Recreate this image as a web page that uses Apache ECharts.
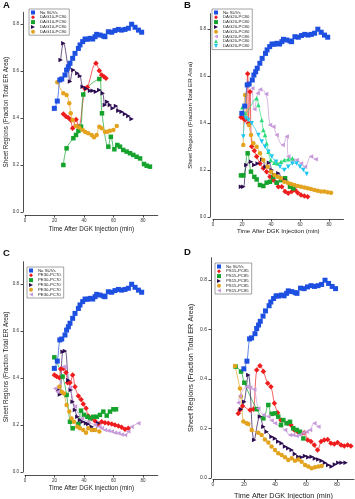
<!DOCTYPE html>
<html><head><meta charset="utf-8">
<script src="https://cdn.jsdelivr.net/npm/echarts@6/dist/echarts.min.js"></script>
<style>html,body{margin:0;padding:0;background:#fff}#c{width:355px;height:499px}</style>
</head><body><div id="c"></div>
<script>
// ---- tick labels ----
const xTicks = [0, 20, 40, 60, 80];
const yTicks = [0.0, 0.2, 0.4, 0.6, 0.8];
const xTitle = 'Time After DGK Injection (min)';
const yTitle = 'Sheet Regions (Fraction Total ER Area)';
const panelLetters = ['A', 'B', 'C', 'D'];
const ctrlLabel = 'No SUVs';
const panelLabels = ['DAG10-PC90', 'DAG20-PC80', 'PE30-PC70', 'PS15-PC85'];

// ---- control (same in every panel) ----
const noSUVs = [[19.9,0.441],[21.9,0.472],[23.6,0.562],[24.9,0.566],[27.1,0.583],[28.2,0.604],[29.4,0.618],[30.5,0.633],[32.3,0.654],[33.9,0.675],[36.2,0.696],[37.3,0.711],[39.1,0.725],[40.7,0.736],[42.3,0.735],[44.1,0.739],[45.9,0.736],[47.5,0.746],[48.6,0.756],[50.8,0.753],[53.1,0.749],[54.2,0.746],[56.5,0.767],[58.8,0.765],[61.0,0.772],[63.3,0.777],[65.5,0.774],[67.8,0.777],[70.1,0.782],[72.3,0.799],[74.6,0.786],[76.9,0.774],[79.1,0.765]];

// ---- panel A ----
const A_red = [[26.0,0.417],[27.8,0.406],[29.4,0.401],[31.0,0.391],[32.3,0.356],[34.6,0.394],[36.2,0.363],[40.7,0.526],[42.3,0.531],[48.1,0.633],[50.4,0.601],[52.0,0.583],[53.6,0.576],[54.9,0.569]];
const A_green = [[26.0,0.200],[28.2,0.271],[32.8,0.314],[34.6,0.328],[36.2,0.345],[38.0,0.363],[39.5,0.500],[50.4,0.566],[52.2,0.420],[56.5,0.278],[58.2,0.320],[60.6,0.267],[62.6,0.285],[64.4,0.278],[66.6,0.264],[68.9,0.257],[71.2,0.250],[73.4,0.243],[75.7,0.235],[78.0,0.228],[80.7,0.204],[82.5,0.197],[84.7,0.193]];
const A_purple = [[24.2,0.647],[26.0,0.718],[29.4,0.604],[30.5,0.555],[32.8,0.604],[35.5,0.590],[37.3,0.579],[39.1,0.533],[41.4,0.526],[44.1,0.516],[45.9,0.516],[48.1,0.512],[50.4,0.519],[52.7,0.505],[54.2,0.455],[55.8,0.469],[57.6,0.455],[59.5,0.441],[61.7,0.451],[63.3,0.431],[65.5,0.427],[67.8,0.417],[70.1,0.408],[72.3,0.396]];
const A_orange = [[21.9,0.552],[26.0,0.505],[28.2,0.498],[30.0,0.463],[31.0,0.420],[32.3,0.391],[34.6,0.366],[36.8,0.360],[39.1,0.349],[40.9,0.340],[42.9,0.335],[45.2,0.328],[46.8,0.318],[48.6,0.328],[50.4,0.363],[52.0,0.356],[54.2,0.342],[55.8,0.342],[57.6,0.346],[59.9,0.349],[62.2,0.366]];

// ---- panel B ----
const B_red = [[19.3,0.424],[20.9,0.420],[22.1,0.413],[23.9,0.609],[24.4,0.399],[25.5,0.533],[26.7,0.300],[28.5,0.282],[30.1,0.257],[32.4,0.228],[34.7,0.207],[37.0,0.193],[39.3,0.171],[41.6,0.157],[43.9,0.146],[45.1,0.129],[47.4,0.129],[49.7,0.108],[51.9,0.101],[54.3,0.108],[56.6,0.115],[58.4,0.103],[60.7,0.094],[63.0,0.089],[65.3,0.086]];
const B_green = [[19.3,0.177],[20.9,0.177],[23.9,0.271],[26.2,0.193],[28.5,0.171],[30.1,0.160],[32.4,0.136],[34.7,0.132],[37.0,0.146],[39.3,0.150],[41.6,0.171],[43.9,0.146],[46.9,0.157],[49.7,0.165],[53.1,0.129],[55.4,0.122]];
const B_purple = [[19.3,0.129],[20.9,0.129],[23.0,0.221],[26.2,0.235],[28.5,0.221],[30.8,0.228],[34.0,0.245],[36.3,0.214],[38.6,0.231],[40.5,0.200],[42.3,0.179],[45.1,0.186],[47.4,0.165],[49.7,0.157]];
const B_orange = [[20.9,0.306],[22.1,0.519],[24.8,0.391],[26.2,0.349],[27.8,0.314],[30.1,0.299],[32.4,0.271],[34.7,0.243],[37.7,0.214],[40.0,0.193],[42.3,0.179],[44.6,0.171],[46.9,0.165],[49.2,0.150],[51.5,0.146],[53.8,0.140],[56.1,0.136],[58.4,0.132],[60.7,0.129],[63.0,0.125],[65.3,0.122],[67.6,0.119],[69.9,0.115],[72.2,0.112],[74.5,0.109],[76.8,0.108],[79.1,0.105],[81.4,0.103]];
const B_lavender = [[27.1,0.548],[28.5,0.458],[30.8,0.526],[32.4,0.543],[36.6,0.523],[39.3,0.391],[41.6,0.384],[43.9,0.349],[48.0,0.306],[50.8,0.342],[51.9,0.257],[54.7,0.243],[57.7,0.243],[60.7,0.228],[63.4,0.214],[67.6,0.257],[70.8,0.246]];
const B_ltgreen = [[20.2,0.467],[22.1,0.441],[30.1,0.505],[31.3,0.477],[33.6,0.413],[34.7,0.370],[35.9,0.349],[37.0,0.314],[38.2,0.278],[39.8,0.243],[42.3,0.231],[44.6,0.228],[46.9,0.235],[49.2,0.243],[51.9,0.246],[54.7,0.250]];
const B_cyan = [[20.9,0.342],[22.6,0.420],[24.3,0.413],[26.7,0.399],[31.3,0.349],[33.6,0.321],[35.9,0.299],[38.2,0.278],[40.5,0.257],[43.5,0.235],[46.2,0.214],[49.2,0.200],[51.9,0.214],[54.7,0.228],[57.7,0.228],[60.0,0.214],[62.3,0.200],[64.6,0.183]];

// ---- panel C ----
const C_red = [[19.9,0.413],[21.5,0.406],[23.3,0.401],[24.2,0.438],[26.0,0.441],[27.8,0.423],[28.9,0.380],[30.5,0.380],[32.3,0.413],[33.9,0.363],[36.2,0.323],[38.0,0.309],[39.5,0.289],[41.4,0.271],[42.9,0.238],[45.2,0.228],[47.5,0.217],[49.7,0.204],[52.0,0.214],[54.2,0.210],[56.5,0.207],[58.8,0.204],[61.0,0.200],[63.3,0.196],[65.5,0.190],[67.8,0.182],[70.0,0.186]];
const C_green = [[19.9,0.488],[25.5,0.406],[28.2,0.328],[30.5,0.214],[32.3,0.186],[36.2,0.204],[38.0,0.261],[40.0,0.243],[42.3,0.235],[44.1,0.228],[46.3,0.235],[48.6,0.235],[50.8,0.243],[53.1,0.257],[55.4,0.240],[57.6,0.257],[59.9,0.267],[61.7,0.267]];
const C_purple = [[22.6,0.349],[23.7,0.330],[25.5,0.512],[27.1,0.515],[29.4,0.391],[31.0,0.349],[32.3,0.299],[33.9,0.264],[35.5,0.235],[37.3,0.221],[39.1,0.214],[41.4,0.207],[42.9,0.204],[45.2,0.193],[47.5,0.179],[49.7,0.207]];
const C_orange = [[23.3,0.363],[24.9,0.342],[26.4,0.334],[28.2,0.285],[30.0,0.257],[31.6,0.228],[33.2,0.214],[35.5,0.193],[37.3,0.186],[39.5,0.179],[41.4,0.167],[42.9,0.186],[45.2,0.179],[47.5,0.179],[50.4,0.172]];
const C_lavender = [[20.3,0.355],[21.9,0.342],[26.0,0.448],[27.1,0.446],[30.5,0.360],[33.9,0.279],[38.6,0.228],[42.9,0.214],[47.5,0.200],[50.4,0.193],[52.0,0.186],[54.2,0.179],[56.5,0.176],[58.8,0.172],[61.0,0.167],[63.3,0.165],[65.5,0.160],[67.8,0.157],[70.0,0.172],[72.3,0.193],[76.8,0.207]];

// ---- panel D ----
const D_red = [[16.3,0.261],[17.4,0.275],[19.1,0.291],[23.9,0.275],[26.0,0.278],[28.2,0.436],[30.3,0.453],[32.5,0.430],[35.3,0.383],[37.4,0.369],[39.6,0.302],[41.7,0.264],[43.9,0.234],[48.2,0.221],[50.3,0.214],[52.5,0.194],[54.6,0.187],[56.8,0.180],[58.9,0.183],[61.1,0.154],[63.2,0.147],[65.4,0.133],[67.5,0.113],[69.7,0.147],[71.8,0.154],[74.0,0.156],[76.1,0.140],[78.3,0.137],[80.4,0.143],[82.6,0.133],[84.7,0.129],[86.9,0.133],[89.0,0.129]];
const D_green = [[14.6,0.450],[18.1,0.430],[20.2,0.385],[28.2,0.278],[32.5,0.241],[35.7,0.295],[37.8,0.259],[40.0,0.261],[42.1,0.248],[43.9,0.214],[45.4,0.234],[47.5,0.221],[49.7,0.227],[51.8,0.201],[54.0,0.194],[56.1,0.187],[58.3,0.160]];
const D_purple = [[18.1,0.278],[20.2,0.308],[22.8,0.416],[26.6,0.154],[30.3,0.248],[32.5,0.207],[34.6,0.187],[37.8,0.167],[40.0,0.160],[42.1,0.147],[44.3,0.140],[46.5,0.127],[48.6,0.120],[50.8,0.113],[52.9,0.097],[55.1,0.086],[57.2,0.084],[59.4,0.089],[61.5,0.084],[63.7,0.086],[65.8,0.079],[68.0,0.075],[70.1,0.070],[72.3,0.062],[74.4,0.053],[76.6,0.046],[78.7,0.055],[80.9,0.062],[83.0,0.062],[85.6,0.062]];
const D_orange = [[14.2,0.452],[17.4,0.362],[18.1,0.329],[19.6,0.228],[21.7,0.221],[22.8,0.218],[25.0,0.194],[29.2,0.183],[31.4,0.174],[33.5,0.156],[35.7,0.143],[37.8,0.127],[40.0,0.113],[42.1,0.100],[44.3,0.093],[46.5,0.084],[48.6,0.073],[50.8,0.080],[52.9,0.070],[55.1,0.075],[57.2,0.066],[59.4,0.053],[61.5,0.046],[63.7,0.039],[65.8,0.043],[68.0,0.046],[70.1,0.048]];
const D_lavender = [[16.3,0.304],[17.4,0.331],[21.7,0.369],[23.9,0.366],[26.6,0.358],[29.2,0.281],[32.5,0.255],[35.7,0.248],[37.8,0.232],[40.0,0.221],[46.5,0.194],[49.7,0.174],[51.8,0.174],[54.0,0.170],[56.1,0.174],[58.3,0.183],[60.4,0.187],[62.6,0.194],[65.4,0.221],[68.0,0.207]];

// ---- styles ----
const RIGHT = 'path://M0,0L10,5L0,10Z';
const LEFT = 'path://M10,0L0,5L10,10Z';
const DOWN = 'path://M0,0L10,0L5,10Z';
const STY = {
  blue:{color:'#1d4fe0', symbol:'rect', size:5},
  red:{color:'#ee1c1c', symbol:'diamond', size:5.5},
  green:{color:'#15a32c', symbol:'rect', size:4.5},
  purple:{color:'#2c0c50', symbol:RIGHT, size:4.5},
  orange:{color:'#e3a31f', symbol:'circle', size:4.5},
  lavender:{color:'#c79ad9', symbol:LEFT, size:4.5},
  ltgreen:{color:'#2bdc7a', symbol:'triangle', size:4.5},
  cyan:{color:'#1cc6ef', symbol:DOWN, size:4.5}
};
const FONT = 'Liberation Sans, Arial, sans-serif';

const panels = [
  {grid:{left:25, top:12.25, width:132.75, height:199.75}, xMax:90, yMax:0.85, xOff:3, yOff:2,
   tf:6.3, kf:4.5, xGap:11, yGap:13, leg:{left:29, top:9}, letter:{left:3, top:0},
   sets:[[A_red,'red'],[A_green,'green'],[A_purple,'purple'],[A_orange,'orange']]},
  {grid:{left:213, top:13.7, width:130.5, height:203.3}, xMax:90, yMax:0.865, xOff:2, yOff:3,
   tf:6.1, kf:4.5, xGap:8, yGap:17, leg:{left:212, top:9}, letter:{left:184, top:0},
   sets:[[B_red,'red'],[B_green,'green'],[B_purple,'purple'],[B_orange,'orange'],[B_lavender,'lavender'],[B_ltgreen,'ltgreen'],[B_cyan,'cyan']]},
  {grid:{left:25, top:261.7, width:132.75, height:210.3}, xMax:90, yMax:0.895, xOff:3, yOff:2,
   tf:6.3, kf:4.5, xGap:10.5, yGap:13, leg:{left:27, top:267}, letter:{left:3, top:248},
   sets:[[C_red,'red'],[C_green,'green'],[C_purple,'purple'],[C_orange,'orange'],[C_lavender,'lavender']]},
  {grid:{left:213, top:257.7, width:141, height:220.3}, xMax:91, yMax:0.89, xOff:1.5, yOff:2,
   tf:7.3, kf:5, xGap:13, yGap:17, leg:{left:215, top:263}, letter:{left:184, top:247},
   sets:[[D_red,'red'],[D_green,'green'],[D_purple,'purple'],[D_orange,'orange'],[D_lavender,'lavender']]}
];

const option = {animation:false, backgroundColor:'#fff', grid:[], xAxis:[], yAxis:[], series:[], legend:[], graphic:[]};
const strip = n => n.split('|')[0];

panels.forEach((p, i) => {
  option.grid.push(Object.assign({containLabel:false, outerBoundsMode:'none'}, p.grid));
  const axisCommon = {
    gridIndex:i, type:'value', min:0,
    axisLine:{onZero:false, lineStyle:{color:'#222', width:0.8}},
    axisTick:{length:2.5, lineStyle:{color:'#222', width:0.8}},
    splitLine:{show:false},
    nameLocation:'middle', nameTextStyle:{fontSize:p.tf, color:'#222', fontFamily:FONT}
  };
  option.xAxis.push(Object.assign({}, axisCommon, {
    max:p.xMax, offset:p.xOff, name:xTitle, nameGap:p.xGap,
    axisTick:Object.assign({customValues:xTicks}, axisCommon.axisTick),
    axisLabel:{customValues:xTicks, fontSize:p.kf, color:'#333', margin:3, fontFamily:FONT}
  }));
  option.yAxis.push(Object.assign({}, axisCommon, {
    max:p.yMax, offset:p.yOff, name:yTitle, nameGap:p.yGap,
    axisTick:Object.assign({customValues:yTicks}, axisCommon.axisTick),
    axisLabel:{customValues:yTicks, fontSize:p.kf, color:'#333', margin:4, fontFamily:FONT,
               formatter:v => Number(v).toFixed(1)}
  }));
  const legData = [];
  const all = [[noSUVs, 'blue', ctrlLabel + '|' + i]].concat(
    p.sets.map((s, k) => [s[0], s[1], panelLabels[i] + '|' + i + '_' + k]));
  all.forEach(([data, sk, name]) => {
    const st = STY[sk];
    option.series.push({
      type:'line', name:name, xAxisIndex:i, yAxisIndex:i, data:data,
      smooth:0.4, symbol:st.symbol, symbolSize:st.size, showAllSymbol:true,
      itemStyle:{color:st.color}, lineStyle:{color:st.color, width:0.7},
      z: sk === 'blue' ? 3 : 2
    });
    legData.push({name:name, icon:st.symbol});
  });
  option.legend.push({
    left:p.leg.left, top:p.leg.top, orient:'vertical', data:legData,
    itemWidth:4, itemHeight:4, itemGap:0.8, selectedMode:false, symbolRotate:0,
    formatter:strip, textStyle:{fontSize:4.3, color:'#222', fontFamily:FONT},
    borderColor:'#666', borderWidth:0.6, padding:[1.5, 3, 1.5, 2], backgroundColor:'#fff'
  });
  option.graphic.push({type:'text', left:p.letter.left, top:p.letter.top,
    style:{text:panelLetters[i], fontSize:9.5, fontWeight:'bold', fill:'#111', fontFamily:FONT}});
});

const chart = echarts.init(document.getElementById('c'), null, {renderer:'canvas'});
chart.setOption(option);
</script>
</body></html>
